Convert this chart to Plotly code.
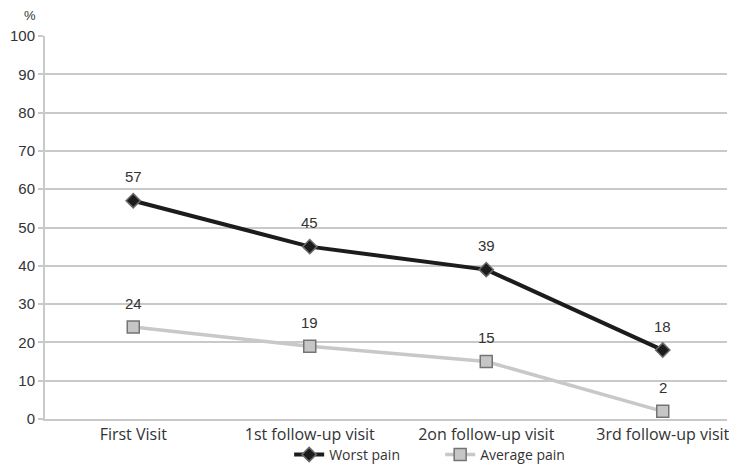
import plotly.graph_objects as go

categories = ["First Visit", "1st follow-up visit", "2on follow-up visit", "3rd follow-up visit"]
worst_pain = [57, 45, 39, 18]
average_pain = [24, 19, 15, 2]
y_ticks = [0, 10, 20, 30, 40, 50, 60, 70, 80, 90, 100]

num_font = "Liberation Sans, Arial, sans-serif"
txt_font = "Open Sans, Noto Sans, sans-serif"
grid = "#c9c9c9"

fig = go.Figure()
fig.add_trace(go.Scatter(
    x=categories, y=worst_pain, name="Worst pain", mode="lines+markers",
    line=dict(color="#1c1c1c", width=4),
    marker=dict(symbol="diamond", size=11, color="#1c1c1c",
                line=dict(color="#6a6a6a", width=1.5)),
))
fig.add_trace(go.Scatter(
    x=categories, y=average_pain, name="Average pain", mode="lines+markers",
    line=dict(color="#c8c8c8", width=3.5),
    marker=dict(symbol="square", size=12, color="#c6c6c6",
                line=dict(color="#747474", width=1.5)),
))

# value labels above each point
for series in (worst_pain, average_pain):
    for cat, val in zip(categories, series):
        fig.add_annotation(x=cat, y=val, text=str(val), showarrow=False,
                           yshift=24, font=dict(family=num_font, size=15, color="#333"))

fig.add_annotation(xref="paper", yref="paper", x=-0.022, y=1.0, yshift=21,
                   text="%", showarrow=False, xanchor="center", yanchor="middle",
                   font=dict(family=num_font, size=13, color="#333"))

fig.update_layout(
    width=729, height=471,
    margin=dict(l=45, r=0, t=36, b=52),
    paper_bgcolor="white", plot_bgcolor="white",
    showlegend=True,
    legend=dict(orientation="h", x=0.358, xanchor="left", y=-0.1355, yanchor="bottom",
                bgcolor="rgba(0,0,0,0)",
                font=dict(family=txt_font, size=14, color="#333"),
                entrywidth=106, entrywidthmode="pixels", tracegroupgap=0),
    xaxis=dict(type="category", range=[-0.5, 3.364], showgrid=False,
               showline=True, linecolor=grid, linewidth=2,
               ticks="", tickfont=dict(family=txt_font, size=16, color="#333")),
    yaxis=dict(range=[0, 100], tickvals=y_ticks, showgrid=True, gridcolor=grid, gridwidth=2,
               zeroline=False, showline=True, linecolor=grid, linewidth=2,
               ticks="outside", ticklen=5, tickcolor=grid, tickwidth=2,
               tickfont=dict(family=num_font, size=15, color="#333")),
)

fig.write_html("out.html")
